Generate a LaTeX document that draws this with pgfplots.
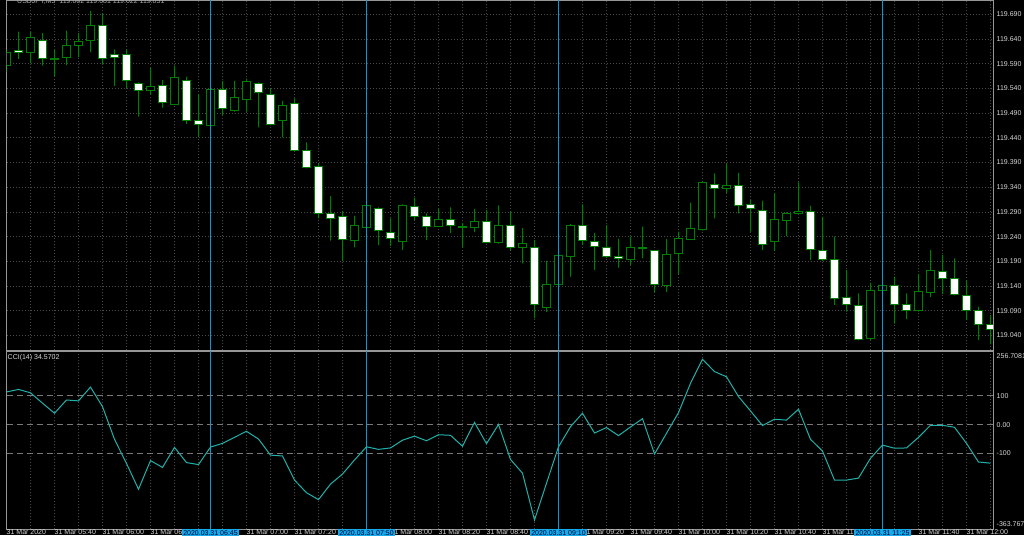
\documentclass[border=0pt]{standalone}
\usepackage{pgfplots}
\pgfplotsset{compat=1.18}
\usepackage{pgfplotstable}
\usepackage{fontspec}
\setmainfont{Liberation Sans}

\definecolor{cgreen}{RGB}{0,128,0}
\definecolor{vblue}{RGB}{16,150,210}
\definecolor{boxblue}{RGB}{20,170,235}
\definecolor{ccicol}{RGB}{32,178,170}
\definecolor{gridcol}{RGB}{72,72,72}
\definecolor{framecol}{RGB}{150,150,150}
\definecolor{labcol}{RGB}{215,215,215}

% USDJPY M5 candles, k = bar index (05:20 ... 12:10)
\pgfplotstableread{
k o h l c
0 119.587 119.619 119.573 119.613
1 119.616 119.655 119.600 119.612
2 119.612 119.654 119.591 119.643
3 119.637 119.652 119.586 119.600
4 119.598 119.618 119.565 119.600
5 119.603 119.657 119.587 119.627
6 119.626 119.652 119.603 119.635
7 119.637 119.697 119.613 119.667
8 119.668 119.692 119.589 119.601
9 119.608 119.619 119.545 119.603
10 119.608 119.619 119.540 119.555
11 119.550 119.552 119.483 119.536
12 119.536 119.581 119.527 119.543
13 119.545 119.557 119.501 119.512
14 119.508 119.586 119.506 119.562
15 119.556 119.564 119.468 119.475
16 119.475 119.529 119.441 119.466
17 119.465 119.541 119.462 119.538
18 119.537 119.555 119.486 119.500
19 119.495 119.555 119.493 119.522
20 119.518 119.560 119.493 119.553
21 119.550 119.552 119.461 119.531
22 119.527 119.540 119.465 119.467
23 119.475 119.515 119.441 119.506
24 119.509 119.520 119.413 119.415
25 119.415 119.431 119.378 119.380
26 119.381 119.388 119.277 119.287
27 119.287 119.322 119.232 119.277
28 119.280 119.292 119.191 119.235
29 119.233 119.282 119.218 119.263
30 119.259 119.305 119.255 119.303
31 119.297 119.299 119.223 119.253
32 119.249 119.277 119.221 119.237
33 119.231 119.305 119.213 119.303
34 119.301 119.319 119.274 119.280
35 119.280 119.287 119.233 119.260
36 119.261 119.296 119.259 119.275
37 119.274 119.299 119.247 119.263
38 119.261 119.268 119.218 119.258
39 119.258 119.296 119.249 119.271
40 119.271 119.294 119.227 119.229
41 119.229 119.303 119.226 119.263
42 119.263 119.291 119.213 119.218
43 119.218 119.257 119.186 119.226
44 119.218 119.233 119.075 119.103
45 119.097 119.191 119.087 119.144
46 119.144 119.203 119.140 119.201
47 119.199 119.265 119.159 119.263
48 119.263 119.305 119.223 119.233
49 119.231 119.247 119.172 119.219
50 119.218 119.263 119.197 119.199
51 119.199 119.236 119.177 119.196
52 119.194 119.240 119.183 119.218
53 119.216 119.259 119.196 119.215
54 119.211 119.213 119.127 119.143
55 119.141 119.235 119.128 119.203
56 119.206 119.250 119.164 119.236
57 119.235 119.309 119.233 119.256
58 119.254 119.352 119.252 119.350
59 119.346 119.368 119.277 119.338
60 119.337 119.388 119.328 119.343
61 119.344 119.369 119.287 119.303
62 119.304 119.314 119.250 119.296
63 119.292 119.313 119.213 119.224
64 119.231 119.328 119.211 119.274
65 119.273 119.289 119.241 119.287
66 119.287 119.350 119.286 119.290
67 119.290 119.302 119.193 119.213
68 119.211 119.280 119.191 119.193
69 119.194 119.240 119.102 119.114
70 119.116 119.172 119.088 119.103
71 119.101 119.125 119.030 119.032
72 119.033 119.147 119.031 119.130
73 119.131 119.143 119.129 119.141
74 119.141 119.159 119.064 119.103
75 119.103 119.125 119.073 119.091
76 119.090 119.164 119.088 119.128
77 119.127 119.213 119.118 119.172
78 119.169 119.203 119.124 119.155
79 119.155 119.196 119.121 119.123
80 119.121 119.151 119.071 119.090
81 119.090 119.098 119.031 119.063
82 119.062 119.081 119.022 119.051
}\ohlc

% CCI(14)
\pgfplotstableread{
k v
0 114
1 123
2 111
3 75
4 40
5 86
6 83
7 131
8 63
9 -51
10 -135
11 -225
12 -125
13 -149
14 -79
15 -132
16 -139
17 -78
18 -65
19 -44
20 -23
21 -50
22 -106
23 -109
24 -193
25 -237
26 -261
27 -207
28 -172
29 -123
30 -77
31 -86
32 -81
33 -54
34 -40
35 -56
36 -35
37 -37
38 -75
39 8
40 -66
41 1
42 -121
43 -169
44 -332
45 -204
46 -77
47 -7
48 40
49 -29
50 -10
51 -38
52 -8
53 21
54 -102
55 -30
56 42
57 144
58 228
59 185
60 167
61 98
62 48
63 -3
64 19
65 16
66 54
67 -51
68 -92
69 -193
70 -193
71 -186
72 -117
73 -71
74 -82
75 -81
76 -44
77 -2
78 -2
79 -9
80 -65
81 -130
82 -134
}\cci

\pgfplotsset{
  mtstyle/.style={
    scale only axis, width=986.5pt,
    xmin=0, xmax=82.21,
    clip mode=individual,
    axis line style={framecol, line width=0.8pt},
    tick style={draw=none},
    xtick={0,4,...,84}, minor x tick num=1,
    xmajorgrids, xminorgrids,
    major grid style={gridcol, line width=0.8pt, dash pattern=on 1pt off 2pt},
    minor grid style={gridcol, line width=0.8pt, dash pattern=on 1pt off 2pt},
    tick label style={font=\fontsize{7}{8}\selectfont, text=labcol},
    yticklabel pos=right,
    yticklabel style={anchor=west, inner sep=0pt, xshift=3.5pt},
  },
}
\tikzset{
  boxlab/.style={anchor=north, fill=boxblue, text=black!80!blue, inner xsep=1.5pt, inner ysep=1pt,
    font=\fontsize{7}{8}\selectfont},
  sidelab/.style={inner sep=0pt, font=\fontsize{7}{8}\selectfont, text=labcol},
}

\begin{document}
\begin{tikzpicture}
\useasboundingbox (0,0) rectangle (1024pt,-535pt);
\fill[black] (0,0) rectangle (1024pt,-535pt);

% price panel (prices shifted by 119 so the stacked bars start near the axis)
\begin{axis}[mtstyle, at={(6.5pt,-350pt)}, anchor=south west, height=350pt,
  ybar stacked,
  ymin=0.01044, ymax=0.71895,
  ytick={0.04,0.09,0.14,0.19,0.24,0.29,0.34,0.39,0.44,0.49,0.54,0.59,0.64,0.69},
  yticklabels={119.040,119.090,119.140,119.190,119.240,119.290,119.340,119.390,119.440,119.490,119.540,119.590,119.640,119.690},
  ymajorgrids,
  xticklabels={},
]
\addplot[draw=none, fill=none] table[x=k, y expr={\thisrow{l}-119}]{\ohlc};
\addplot[draw=none, fill=cgreen, bar width=1pt] table[x=k, y expr={min(\thisrow{o},\thisrow{c})-\thisrow{l}}]{\ohlc};
\addplot[draw=cgreen, fill=black, bar width=8pt, line width=1pt] table[x=k, y expr={max(\thisrow{c}-\thisrow{o},0)}]{\ohlc};
\addplot[draw=cgreen, fill=white, bar width=8pt, line width=1pt] table[x=k, y expr={max(\thisrow{o}-\thisrow{c},0)}]{\ohlc};
\addplot[draw=none, fill=cgreen, bar width=1pt] table[x=k, y expr={\thisrow{h}-max(\thisrow{o},\thisrow{c})}]{\ohlc};
\node[sidelab, anchor=west, text=labcol!80!black, xshift=10.5pt, yshift=-1.5pt] at (rel axis cs:0,1) {USDJPY,M5 \ 119.062 119.081 119.022 119.051};
\end{axis}

% vertical lines over the candles
\begin{axis}[scale only axis, width=986.5pt, height=350pt, at={(6.5pt,-350pt)}, anchor=south west,
  xmin=0, xmax=82.21, ymin=0.01044, ymax=0.71895, hide axis]
\addplot[ycomb, vblue, line width=1.2pt, mark=none] coordinates {(17,1) (30,1) (46,1) (73,1)};
\end{axis}

% CCI panel
\begin{axis}[mtstyle, at={(6.5pt,-529.1pt)}, anchor=south west, height=178.1pt,
  ymin=-363.7674, ymax=256.7081,
  ytick=\empty,
  extra y ticks={-100,0,100},
  extra y tick labels={-100,0.00,100},
  extra y tick style={grid=major, major grid style={framecol!80!black, line width=1pt, dash pattern=on 6pt off 4pt}},
  xticklabels={31 Mar 2020,31 Mar 05:40,31 Mar 06:00,31 Mar 06:20,,31 Mar 07:00,31 Mar 07:20,,31 Mar 08:00,31 Mar 08:20,31 Mar 08:40,,31 Mar 09:20,31 Mar 09:40,31 Mar 10:00,31 Mar 10:20,31 Mar 10:40,31 Mar 11:00,,31 Mar 11:40,31 Mar 12:00,},
  xticklabel style={anchor=north west, inner sep=0pt, yshift=-0.5pt},
  extra x ticks={17,30,46,73},
  extra x tick labels={},
  extra x tick style={grid=major, major grid style={vblue, solid, line width=1.2pt}},
]
\addplot[ccicol, line width=1pt, mark=none] table[x=k, y=v]{\cci};
\node[sidelab, anchor=north west, xshift=1pt, yshift=-3pt] at (rel axis cs:0,1) {CCI(14) 34.5702};
\node[sidelab, anchor=north west, xshift=3.5pt, yshift=-2pt] at (rel axis cs:1,1) {256.7081};
\node[sidelab, anchor=south west, xshift=3.5pt, yshift=2.5pt] at (rel axis cs:1,0) {-363.7674};
\node[boxlab] at (axis cs:17,-363.7674) {2020.03.31 06:45};
\node[boxlab] at (axis cs:30,-363.7674) {2020.03.31 07:50};
\node[boxlab] at (axis cs:46,-363.7674) {2020.03.31 09:10};
\node[boxlab] at (axis cs:73,-363.7674) {2020.03.31 11:25};
\end{axis}
\end{tikzpicture}
\end{document}
